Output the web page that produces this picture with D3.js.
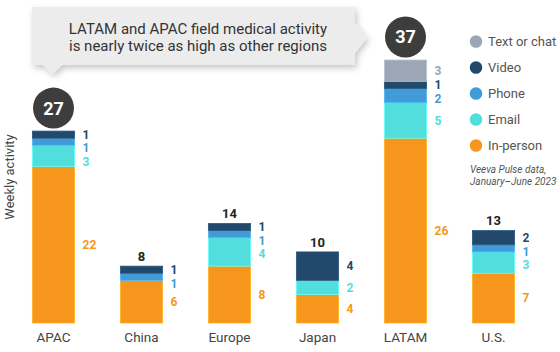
<!DOCTYPE html>
<html>
<head>
<meta charset="utf-8">
<script src="https://cdn.jsdelivr.net/npm/d3@7"></script>
<style>
body { margin:0; background:#fff; }
svg { font-family: Roboto, "Open Sans", sans-serif; display:block; }
</style>
</head>
<body>
<svg id="chart" width="560" height="352"></svg>
<script>
// data
var regions = ["APAC", "China", "Europe", "Japan", "LATAM", "U.S."];
var inPerson = [22, 6, 8, 4, 26, 7];
var email = [3, 0, 4, 2, 5, 3];
var phone = [1, 1, 1, 0, 2, 1];
var video = [1, 1, 1, 4, 1, 2];
var textChat = [0, 0, 0, 0, 3, 0];
var highlighted = ["APAC", "LATAM"];

var keys = ["inPerson", "email", "phone", "video", "textChat"];
var keyNames = {inPerson: "In-person", email: "Email", phone: "Phone", video: "Video", textChat: "Text or chat"};
var colors = {inPerson: "#f7961d", email: "#52dedc", phone: "#409bd6", video: "#22496c", textChat: "#9ca6b4"};

var rows = regions.map(function(r, i) {
  return {region: r, inPerson: inPerson[i], email: email[i], phone: phone[i], video: video[i], textChat: textChat[i]};
});
rows.forEach(function(d) { d.total = d3.sum(keys, function(k) { return d[k]; }); });

var svg = d3.select("#chart");

var defs = svg.append("defs");
var f = defs.append("filter").attr("id", "shadow").attr("x", "-20%").attr("y", "-30%").attr("width", "140%").attr("height", "170%");
f.append("feDropShadow").attr("dx", 2).attr("dy", 3).attr("stdDeviation", 3).attr("flood-color", "#000").attr("flood-opacity", 0.22);

var x = d3.scaleBand().domain(regions).range([9.5, 537.5]).paddingInner(0.52).paddingOuter(0.26);
var y = d3.scaleLinear().domain([0, 37]).range([323, 60]);

var series = d3.stack().keys(keys)(rows);

// bars
svg.append("g").selectAll("g")
  .data(series)
  .join("g")
  .attr("fill", function(s) { return colors[s.key]; })
  .attr("stroke", function(s) { return d3.color(colors[s.key]).brighter(0.5); })
  .attr("stroke-width", 0.8)
  .selectAll("rect")
  .data(function(s) { return s.filter(function(d) { return d[1] > d[0]; }); })
  .join("rect")
  .attr("x", function(d) { return x(d.data.region); })
  .attr("width", x.bandwidth())
  .attr("y", function(d) { return y(d[1]); })
  .attr("height", function(d) { return y(d[0]) - y(d[1]); });

// segment labels, pushed apart when too close
var labelG = svg.append("g").attr("font-size", 12).attr("font-weight", "bold");
rows.forEach(function(row) {
  var segs = [];
  series.forEach(function(s) {
    var d = s.find(function(e) { return e.data.region === row.region; });
    if (d[1] > d[0]) segs.push({key: s.key, v: d[1] - d[0], mid: (y(d[0]) + y(d[1])) / 2});
  });
  segs.sort(function(a, b) { return a.mid - b.mid; });
  var prev = -100;
  segs.forEach(function(s) {
    s.ly = Math.max(s.mid, prev + 13.5);
    prev = s.ly;
  });
  labelG.selectAll(null)
    .data(segs)
    .join("text")
    .attr("x", x(row.region) + x.bandwidth() + 8)
    .attr("y", function(s) { return s.ly; })
    .attr("dy", "0.36em")
    .attr("fill", function(s) { return colors[s.key]; })
    .text(function(s) { return s.v; });
});

// totals
var tot = svg.append("g");
rows.forEach(function(row) {
  var cx = x(row.region) + x.bandwidth() / 2;
  if (highlighted.indexOf(row.region) >= 0) {
    tot.append("circle").attr("cx", cx).attr("cy", y(row.total) - 23).attr("r", 20.5).attr("fill", "#3d3d3d");
    tot.append("text").attr("x", cx).attr("y", y(row.total) - 23).attr("dy", "0.36em")
      .attr("text-anchor", "middle").attr("fill", "#fff").attr("font-size", 18).attr("font-weight", "bold")
      .text(row.total);
  } else {
    tot.append("text").attr("x", cx).attr("y", y(row.total) - 10).attr("dy", "0.36em")
      .attr("text-anchor", "middle").attr("fill", "#222").attr("font-size", 13).attr("font-weight", "bold")
      .text(row.total);
  }
});

// x axis labels
var xAxis = d3.axisBottom(x).tickSize(0).tickPadding(9);
var gx = svg.append("g").attr("transform", "translate(0,323)").call(xAxis);
gx.select(".domain").remove();
gx.selectAll("text").attr("font-size", 13.5).attr("fill", "#444").attr("font-family", "Roboto, sans-serif");

// y label
svg.append("text")
  .attr("transform", "translate(14,177) rotate(-90)")
  .attr("text-anchor", "middle").attr("font-size", 13).attr("fill", "#444")
  .text("Weekly activity");

// legend
var legendKeys = keys.slice().reverse();
var lg = svg.append("g").selectAll("g")
  .data(legendKeys)
  .join("g")
  .attr("transform", function(k, i) { return "translate(476," + (41.5 + i * 26) + ")"; });
lg.append("circle").attr("r", 6.3).attr("fill", function(k) { return colors[k]; });
lg.append("text").attr("x", 12).attr("dy", "0.36em").attr("font-size", 13).attr("fill", "#555")
  .text(function(k) { return keyNames[k]; });

svg.append("text").attr("x", 470).attr("y", 169).attr("dy", "0.36em")
  .attr("font-size", 10).attr("font-style", "italic").attr("fill", "#555").text("Veeva Pulse data,");
svg.append("text").attr("x", 470).attr("y", 181.5).attr("dy", "0.36em")
  .attr("font-size", 10).attr("font-style", "italic").attr("fill", "#555").text("January\u2013June 2023");

// callout
var co = svg.append("g");
co.append("path")
  .attr("d", "M32,7 L355,7 L355,23 L367,38 L355,53 L355,65 L62,65 L52.5,74 L43,65 L32,65 Z")
  .attr("fill", "#ececec")
  .attr("filter", "url(#shadow)");
co.append("text").attr("x", 198).attr("y", 28.5).attr("dy", "0.36em")
  .attr("text-anchor", "middle").attr("font-size", 15).attr("fill", "#333")
  .text("LATAM and APAC field medical activity");
co.append("text").attr("x", 198).attr("y", 45.5).attr("dy", "0.36em")
  .attr("text-anchor", "middle").attr("font-size", 15).attr("fill", "#333")
  .text("is nearly twice as high as other regions");
</script>
</body>
</html>
